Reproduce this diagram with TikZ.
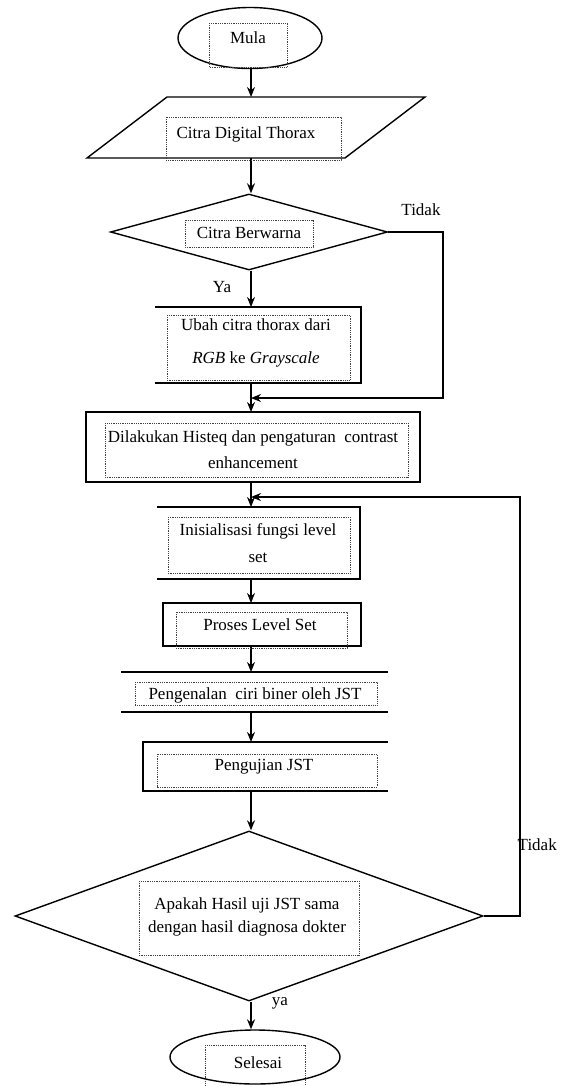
\documentclass[tikz,border=0pt]{standalone}
\usepackage{fontspec}
\setmainfont{Liberation Serif}
\usetikzlibrary{shapes.geometric,arrows.meta,calc}
\begin{document}
\begin{tikzpicture}[x=1pt,y=-1pt,
  line width=1.4pt,
  arr/.style={-{Stealth[length=10pt,width=8pt]}},
  shp/.style={rectangle,inner sep=0pt,outer sep=0pt},
  term/.style={ellipse,draw,fill=white,inner sep=0pt},
  dec/.style={diamond,draw,fill=white,inner sep=0pt},
  dotbox/.style={densely dotted,line width=0.8pt,black!75},
  lbl/.style={font=\fontsize{17}{20}\selectfont,inner sep=0pt,align=center}
]
\useasboundingbox (0,0) rectangle (566,1086);
\fill[white] (0,0) rectangle (566,1086);
\coordinate (ax) at (251,0);
\coordinate (r1) at (443,0);
\coordinate (r2) at (520,0);
\coordinate (m1) at (251,398);
\coordinate (m2) at (251,497);

% shapes
\node[term,minimum width=144pt,minimum height=61pt] (mula) at (250,38) {};
\node[shp,minimum width=338pt,minimum height=61pt] (para) at (256,127.5) {};
\draw[fill=white] ($(para.north west)+(80,0)$) -- (para.north east) -- ($(para.south east)+(-80,0)$) -- (para.south west) -- cycle;
\node[dec,minimum width=277pt,minimum height=76pt] (d1) at (249,232) {};
\node[shp,minimum width=206pt,minimum height=76pt] (ubah) at (258,345) {};
\draw (ubah.north west) -- (ubah.north east) -- (ubah.south east) -- (ubah.south west);
\node[shp,draw,fill=white,minimum width=334pt,minimum height=70pt] (dil) at (253,447) {};
\node[shp,minimum width=203pt,minimum height=72pt] (init) at (258.5,543) {};
\draw (init.north west) -- (init.north east) -- (init.south east) -- (init.south west);
\node[shp,draw,fill=white,minimum width=198pt,minimum height=43pt] (proses) at (262,624.5) {};
\node[shp,minimum width=267pt,minimum height=40pt] (kenal) at (254.5,692) {};
\draw (kenal.north west) -- (kenal.north east);
\draw (kenal.south west) -- (kenal.south east);
\node[shp,minimum width=245pt,minimum height=49pt] (uji) at (265.5,766.5) {};
\draw (uji.north east) -- (uji.north west) -- (uji.south west) -- (uji.south east);
\node[dec,minimum width=468pt,minimum height=170pt] (d2) at (249,916) {};
\node[term,minimum width=170pt,minimum height=54pt] (selesai) at (255,1057) {};

% connectors
\draw[arr] (ax |- mula.south) -- (ax |- para.north);
\draw[arr] (ax |- para.south) -- (ax |- d1.north);
\draw[arr] (ax |- d1.south) -- (ax |- ubah.north);
\draw[arr] (ax |- ubah.south) -- (ax |- dil.north);
\draw[arr] (d1.east) -- (d1.east -| r1) -- (r1 |- m1) -- (m1);
\draw[arr] (ax |- dil.south) -- (ax |- init.north);
\draw[arr] (d2.east) -- (d2.east -| r2) -- (r2 |- m2) -- (m2);
\draw[arr] (ax |- init.south) -- (ax |- proses.north);
\draw[arr] (ax |- proses.south) -- (ax |- kenal.north);
\draw[arr] (ax |- kenal.south) -- (ax |- uji.north);
\draw[arr] (ax |- uji.south) -- (ax |- d2.north);
\draw[arr] (ax |- d2.south) -- (ax |- selesai.north);

% dotted text frames
\draw[dotbox] (209,23) rectangle (287,67);
\draw[dotbox] (166,117) rectangle (341,160);
\draw[dotbox] (185,220) rectangle (313,247);
\draw[dotbox] (167,315) rectangle (350,380);
\draw[dotbox] (105,423) rectangle (408,477);
\draw[dotbox] (168,517) rectangle (350,573);
\draw[dotbox] (176,612) rectangle (347,648);
\draw[dotbox] (135,682) rectangle (377,705);
\draw[dotbox] (157,754) rectangle (377,787);
\draw[dotbox] (139,881) rectangle (359,955);
\draw[dotbox] (205,1045) rectangle (305,1086);

% texts
\node[lbl] (tmula) at (248,38) {Mula};
\node[lbl] (tpara) at (246,134) {Citra Digital Thorax};
\node[lbl] (td1) at (249,233) {Citra Berwarna};
\node[lbl] (ttidak1) at (421,210) {Tidak};
\node[lbl] (tya1) at (222,287) {Ya};
\node[lbl,font=\fontsize{17}{33}\selectfont] (tubah) at (256,343) {Ubah citra thorax dari\\\textit{RGB} ke \textit{Grayscale}};
\node[lbl,font=\fontsize{17}{26}\selectfont] (tdil) at (253,450) {Dilakukan Histeq dan pengaturan~ contrast\\enhancement};
\node[lbl,font=\fontsize{17}{27}\selectfont] (tinit) at (258,543.5) {Inisialisasi fungsi level\\set};
\node[lbl] (tproses) at (260,625) {Proses Level Set};
\node[lbl] (tkenal) at (255,695) {Pengenalan~ ciri biner oleh JST};
\node[lbl] (tuji) at (264,767) {Pengujian JST};
\node[lbl,font=\fontsize{17}{23}\selectfont] (td2) at (247,916.5) {Apakah Hasil uji JST sama\\dengan hasil diagnosa dokter};
\node[lbl,anchor=west] (ttidak2) at (517,845) {Tidak};
\node[lbl] (tya2) at (280,1003) {ya};
\node[lbl] (tselesai) at (258,1063) {Selesai};
\end{tikzpicture}
\end{document}
